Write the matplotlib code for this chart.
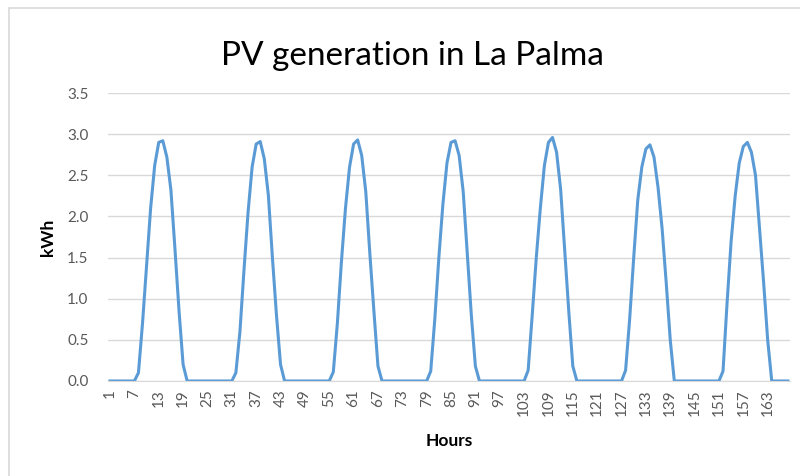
import matplotlib.pyplot as plt
from matplotlib.patches import Rectangle

plt.rcParams['font.family'] = ['Lato', 'DejaVu Sans']

# hourly PV output (kWh), one list per day, 24 hours each
day1 = [0, 0, 0, 0, 0, 0, 0, 0.10, 0.70, 1.40, 2.10, 2.62, 2.90, 2.92, 2.72, 2.32, 1.60, 0.85, 0.20, 0, 0, 0, 0, 0]
day2 = [0, 0, 0, 0, 0, 0, 0, 0.10, 0.60, 1.35, 2.05, 2.60, 2.88, 2.91, 2.70, 2.26, 1.50, 0.80, 0.20, 0, 0, 0, 0, 0]
day3 = [0, 0, 0, 0, 0, 0, 0, 0.11, 0.70, 1.45, 2.10, 2.60, 2.88, 2.93, 2.74, 2.30, 1.55, 0.85, 0.18, 0, 0, 0, 0, 0]
day4 = [0, 0, 0, 0, 0, 0, 0, 0.12, 0.75, 1.50, 2.15, 2.65, 2.90, 2.92, 2.74, 2.30, 1.55, 0.80, 0.18, 0, 0, 0, 0, 0]
day5 = [0, 0, 0, 0, 0, 0, 0, 0.13, 0.80, 1.50, 2.10, 2.62, 2.90, 2.96, 2.78, 2.33, 1.60, 0.85, 0.18, 0, 0, 0, 0, 0]
day6 = [0, 0, 0, 0, 0, 0, 0, 0.13, 0.75, 1.50, 2.20, 2.60, 2.82, 2.87, 2.72, 2.35, 1.85, 1.20, 0.50, 0, 0, 0, 0, 0]
day7 = [0, 0, 0, 0, 0, 0, 0, 0.12, 0.95, 1.70, 2.25, 2.65, 2.85, 2.90, 2.78, 2.50, 1.85, 1.20, 0.50, 0, 0, 0, 0, 0]

pv = day1 + day2 + day3 + day4 + day5 + day6 + day7
hours = list(range(1, len(pv) + 1))
tick_hours = hours[::6]

fig = plt.figure(figsize=(8, 4.76), dpi=100)
ax = fig.add_axes([0.135, 0.1996, 0.8525, 0.605])

ax.plot(hours, pv, color='#5B9BD5', lw=2.2, solid_joinstyle='round')

ax.set_xlim(0.5, len(pv) + 0.5)
ax.set_ylim(0, 3.5)
ax.set_yticks([0, 0.5, 1.0, 1.5, 2.0, 2.5, 3.0, 3.5])
ax.set_yticklabels([f'{v:.1f}' for v in ax.get_yticks()])
ax.set_xticks(tick_hours)
ax.set_xticklabels([str(h) for h in tick_hours], rotation=90)

ax.grid(axis='y', color='#d9d9d9', lw=1)
ax.set_axisbelow(True)
for s in ['top', 'right', 'left']:
    ax.spines[s].set_visible(False)
ax.spines['bottom'].set_color('#d9d9d9')
ax.tick_params(length=0, labelsize=11, colors='#595959')
ax.tick_params(axis='y', pad=14)
ax.tick_params(axis='x', pad=6)

fig.text(412 / 800, 1 - 65 / 476, 'PV generation in La Palma', fontsize=24,
         color='#000000', ha='center', va='baseline')
ax.set_xlabel('Hours', fontsize=12.5, fontweight='bold', labelpad=12)
ax.set_ylabel('kWh', fontsize=12.5, fontweight='bold', labelpad=8)

# chart area border (left and top edges visible)
fig.patches.append(Rectangle((9 / 800, -0.1), 1.2, 1.1 - 8 / 476, transform=fig.transFigure,
                             fill=False, edgecolor='#d9d9d9', lw=1.2))

plt.savefig('out.png', dpi=100)
